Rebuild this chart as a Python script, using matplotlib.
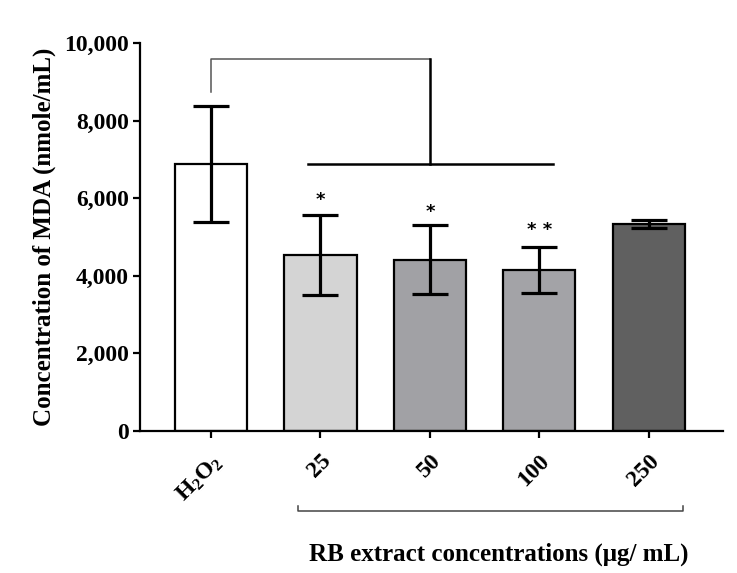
import matplotlib
matplotlib.use("Agg")
import matplotlib.pyplot as plt

plt.rcParams['font.family'] = ['Liberation Serif', 'DejaVu Serif']
plt.rcParams['font.weight'] = 'bold'
plt.rcParams['mathtext.fontset'] = 'custom'
plt.rcParams['mathtext.rm'] = 'Liberation Serif:bold'
plt.rcParams['mathtext.bf'] = 'Liberation Serif:bold'
plt.rcParams['mathtext.it'] = 'Liberation Serif:bold'

# data
groups = [r'$\mathbf{H_2O_2}$', '25', '50', '100', '250']
means = [6880, 4540, 4410, 4150, 5335]
errors = [1500, 1030, 890, 600, 100]
colors = ['#ffffff', '#d4d4d4', '#a1a1a5', '#a3a3a7', '#606060']
stars = ['', '*', '*', '* *', '']
star_y = [0, 5960, 5650, 5180, 0]

fig = plt.figure(figsize=(7.37, 5.73), dpi=100)
ax = fig.add_axes([0.19, 0.2478, 0.791, 0.677])

x = list(range(len(groups)))
ax.bar(x, means, width=0.66, color=colors, edgecolor='black', linewidth=1.6, zorder=2)
ax.errorbar(x, means, yerr=errors, fmt='none', ecolor='black', elinewidth=2.3,
            capsize=13, capthick=2.3, zorder=3)

for xi, s, sy in zip(x, stars, star_y):
    if s:
        ax.text(xi, sy, s, ha='center', va='center', fontsize=13, fontweight='bold',
                family='DejaVu Sans')

# significance bracket
ax.plot([0, 0, 2.0], [8740, 9590, 9590], color='#555555', lw=1.1, clip_on=False)
ax.plot([2.0, 2.0], [9590, 6880], color='black', lw=1.8, clip_on=False)
ax.plot([0.89, 3.13], [6880, 6880], color='black', lw=1.8, clip_on=False)

ax.set_xlim(-0.65, 4.68)
ax.set_ylim(0, 10000)
ax.set_yticks([0, 2000, 4000, 6000, 8000, 10000])
ax.set_yticklabels(['0', '2,000', '4,000', '6,000', '8,000', '10,000'])
ax.set_xticks(x)
ax.set_xticklabels(groups, rotation=45, ha='right', rotation_mode='anchor')

for side in ['top', 'right']:
    ax.spines[side].set_visible(False)
for side in ['left', 'bottom']:
    ax.spines[side].set_linewidth(1.6)
ax.tick_params(axis='both', width=1.6, length=5, labelsize=17, pad=3)
ax.tick_params(axis='x', pad=9)

ax.set_ylabel('Concentration of MDA (nmole/mL)', fontsize=18, fontweight='bold', labelpad=6)

# bracket under concentration labels
ax.plot([0.79, 0.79, 4.31, 4.31], [-1930, -2060, -2060, -1930], color='#444444',
        lw=1.1, clip_on=False)
ax.text(2.63, -3170, 'RB extract concentrations (μg/ mL)', ha='center', va='center',
        fontsize=18, fontweight='bold')

fig.savefig('out.png', dpi=100)
